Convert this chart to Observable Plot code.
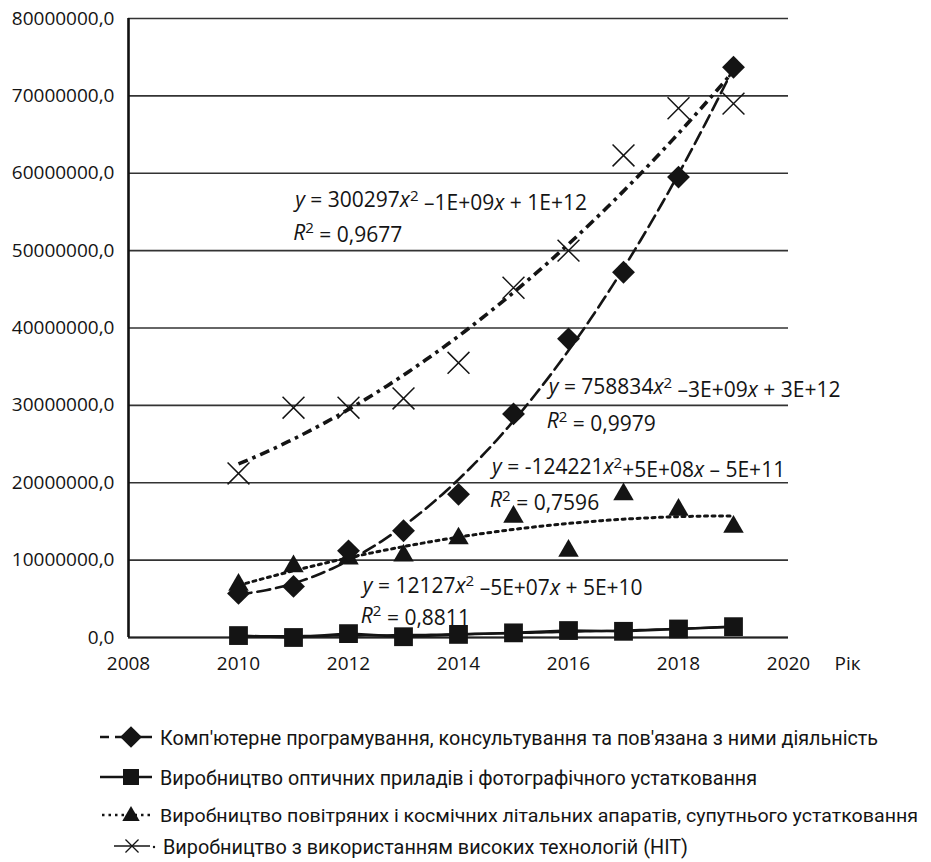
<!DOCTYPE html>
<html>
<head>
<meta charset="utf-8">
<script src="https://cdn.jsdelivr.net/npm/d3@7"></script>
<script src="https://cdn.jsdelivr.net/npm/@observablehq/plot@0.6"></script>
<style>
  html, body { margin: 0; padding: 0; background: #fff; }
  #chart svg { display: block; }
</style>
</head>
<body>
<div id="chart"></div>
<script>
// ---- data (values in millions) ----
const years = [2010, 2011, 2012, 2013, 2014, 2015, 2016, 2017, 2018, 2019];
const compProgramming = [5.7, 6.6, 11.2, 13.8, 18.5, 28.9, 38.6, 47.2, 59.5, 73.7];
const opticalInstruments = [0.25, 0.0, 0.5, 0.1, 0.4, 0.6, 0.9, 0.8, 1.1, 1.4];
const aerospace = [6.8, 9.2, 10.2, 10.6, 12.8, 15.6, 11.2, 18.5, 16.5, 14.3];
const hiTech = [21.2, 29.7, 29.7, 30.9, 35.5, 45.2, 50.0, 62.3, 68.4, 69.0];

const xTicks = [2008, 2010, 2012, 2014, 2016, 2018, 2020];
const yTicks = [0, 10000000, 20000000, 30000000, 40000000, 50000000, 60000000, 70000000, 80000000];
const xAxisLabel = "Рік";

const seriesNames = [
  "Комп'ютерне програмування, консультування та пов'язана з ними діяльність",
  "Виробництво оптичних приладів і фотографічного устатковання",
  "Виробництво повітряних і космічних літальних апаратів, супутнього устатковання",
  "Виробництво з використанням високих технологій (НІТ)"
];
const equations = [
  "*y* = 758834*x*^2 –3E+09*x* + 3E+12",
  "*y* = 12127*x*^2 –5E+07*x* + 5E+10",
  "*y* = -124221*x*^2+5E+08*x* – 5E+11",
  "*y* = 300297*x*^2 –1E+09*x* + 1E+12"
];
const rSquared = ["*R*^2 = 0,9979", "*R*^2 = 0,8811", "*R*^2 = 0,7596", "*R*^2 = 0,9677"];

// ---- helpers ----
const toRows = vals => years.map((year, i) => ({year, value: vals[i] * 1e6}));
function quadFit(rows) {
  const x0 = d3.mean(rows, d => d.year);
  const S = [[0,0,0],[0,0,0],[0,0,0]], T = [0,0,0];
  for (const r of rows) {
    const u = r.year - x0, p = [1, u, u*u];
    for (let a = 0; a < 3; a++) { T[a] += p[a] * r.value; for (let b = 0; b < 3; b++) S[a][b] += p[a]*p[b]; }
  }
  const M = S.map((row, i) => [...row, T[i]]);
  for (let i = 0; i < 3; i++) {
    let piv = i; for (let k = i+1; k < 3; k++) if (Math.abs(M[k][i]) > Math.abs(M[piv][i])) piv = k;
    [M[i], M[piv]] = [M[piv], M[i]];
    for (let k = i+1; k < 3; k++) { const f = M[k][i]/M[i][i]; for (let j = i; j < 4; j++) M[k][j] -= f*M[i][j]; }
  }
  const c = [0,0,0];
  for (let i = 2; i >= 0; i--) { let s = M[i][3]; for (let j = i+1; j < 3; j++) s -= M[i][j]*c[j]; c[i] = s/M[i][i]; }
  const f = t => c[0] + c[1]*(t-x0) + c[2]*(t-x0)*(t-x0);
  const t0 = d3.min(rows, d => d.year), t1 = d3.max(rows, d => d.year);
  return d3.range(0, 91).map(k => { const t = t0 + (t1 - t0) * k / 90; return {year: t, value: f(t)}; });
}

const rComp = toRows(compProgramming), rOpt = toRows(opticalInstruments), rAero = toRows(aerospace), rHit = toRows(hiTech);
const fmtY = d => d3.format(".1f")(d).replace(".", ",");

const styles = [
  {symbol: "diamond2", r: 10.3, dash: "13,6", width: 2.6},
  {symbol: "square", r: 10.6, dash: null, width: 2.6},
  {symbol: "triangle", r: 7.6, dash: "3,4.5", width: 3},
  {symbol: "times", r: 10, dash: "10,5,3.5,5", width: 3.6}
];
const ink = "#141414";

const plot = Plot.plot({
  width: 931,
  height: 690,
  marginTop: 18,
  marginBottom: 53,
  marginLeft: 128,
  marginRight: 143,
  style: {fontFamily: "'Open Sans', sans-serif", fontSize: "19px", color: ink, background: "#fff", overflow: "visible"},
  x: {domain: [2008, 2020], ticks: xTicks, tickFormat: d => String(d), tickSize: 0, tickPadding: 19, label: null},
  y: {domain: [0, 80000000], ticks: yTicks, tickFormat: fmtY, tickSize: 0, tickPadding: 14, label: null},
  marks: [
    Plot.ruleY(yTicks, {stroke: "#333", strokeWidth: 1.6}),
    Plot.ruleY([0], {stroke: "#222", strokeWidth: 2}),
    Plot.ruleX([2008], {stroke: "#111", strokeWidth: 2.6}),
    // trend lines
    Plot.line(quadFit(rHit), {x: "year", y: "value", stroke: ink, strokeWidth: styles[3].width, strokeDasharray: styles[3].dash, strokeLinecap: "butt"}),
    Plot.line(quadFit(rComp), {x: "year", y: "value", stroke: ink, strokeWidth: styles[0].width, strokeDasharray: styles[0].dash}),
    Plot.line(quadFit(rAero), {x: "year", y: "value", stroke: ink, strokeWidth: styles[2].width, strokeDasharray: styles[2].dash}),
    Plot.line(quadFit(rOpt), {x: "year", y: "value", stroke: ink, strokeWidth: 2.2}),
    // optical series line
    Plot.line(rOpt, {x: "year", y: "value", stroke: ink, strokeWidth: 2.6}),
    // markers
    Plot.dot(rAero, {x: "year", y: "value", symbol: styles[2].symbol, r: styles[2].r, fill: ink, stroke: "none"}),
    Plot.dot(rComp, {x: "year", y: "value", symbol: styles[0].symbol, r: styles[0].r, fill: ink, stroke: "none"}),
    Plot.dot(rOpt, {x: "year", y: "value", symbol: styles[1].symbol, r: styles[1].r, fill: ink, stroke: "none"}),
    Plot.dot(rHit, {x: "year", y: "value", symbol: styles[3].symbol, r: styles[3].r, stroke: ink, strokeWidth: 1.5, fill: "none"}),
    Plot.text([xAxisLabel], {x: 2020, frameAnchor: "bottom", dx: 59, dy: 32, fontSize: 19, fill: ink})
  ]
});
document.getElementById("chart").appendChild(plot);

// ---- equation annotations (rich text with italics and superscripts) ----
const sx = plot.scale("x"), sy = plot.scale("y");
function richText(sel, str, size) {
  const tokens = str.split(/(\*[^*]+\*|\^\d)/).filter(s => s.length);
  let pendingDy = null;
  for (const t of tokens) {
    let ts;
    if (t.startsWith("*")) ts = sel.append("tspan").attr("font-style", "italic").text(t.slice(1, -1));
    else if (t.startsWith("^")) ts = sel.append("tspan").attr("dy", "-0.42em").attr("font-size", size * 0.72).text(t.slice(1));
    else ts = sel.append("tspan").text(t.replace(/ /g, "\u00a0"));
    if (pendingDy) { ts.attr("dy", pendingDy); pendingDy = null; }
    if (t.startsWith("^")) pendingDy = (0.42 * size) + "px";
  }
}
const annot = [
  {eq: 3, x: 2011.04, y1: 56.5e6, y2: 52.3e6},
  {eq: 0, x: 2015.65, y1: 32.3e6, y2: 27.9e6},
  {eq: 2, x: 2014.62, y1: 22.0e6, y2: 17.7e6},
  {eq: 1, x: 2012.27, y1: 6.7e6, y2: 2.8e6}
];
const eqSize = 21;
const svg = d3.select(plot);
const g = svg.append("g").attr("font-family", "'Open Sans', sans-serif").attr("font-size", eqSize)
  .attr("fill", ink).attr("text-anchor", "start");
for (const a of annot) {
  richText(g.append("text").attr("text-anchor", "start").attr("x", sx.apply(a.x)).attr("y", sy.apply(a.y1)).attr("dy", "0.35em"), equations[a.eq], eqSize);
  richText(g.append("text").attr("text-anchor", "start").attr("x", sx.apply(a.x) - 2).attr("y", sy.apply(a.y2)).attr("dy", "0.35em"), rSquared[a.eq], eqSize);
}

// ---- legend ----
const legendRows = [
  {name: 0, cy: 47, textW: 718, tx: 160, fs: 21},
  {name: 1, cy: 87, textW: 597, tx: 160, fs: 21},
  {name: 2, cy: 125, textW: 758, tx: 160, fs: 19},
  {name: 3, cy: 156, textW: 525, tx: 163, fs: 21}
];
const leg = d3.select("#chart").append("svg").attr("width", 931).attr("height", 172)
  .style("display", "block").attr("font-family", "Roboto, 'Noto Sans', sans-serif");
const symMap = {diamond2: d3.symbolDiamond2, square: d3.symbolSquare, triangle: d3.symbolTriangle, times: d3.symbolTimes};
const legendScale = [0.95, 0.85, 0.85, 0.6];
legendRows.forEach((row, i) => {
  const st = styles[i];
  const gg = leg.append("g").attr("transform", `translate(0,${row.cy})`);
  if (i === 3) {
    gg.append("line").attr("x1", 114).attr("x2", 150).attr("stroke", ink).attr("stroke-width", 1.4);
    gg.append("circle").attr("cx", 154).attr("cy", 1).attr("r", 1.2).attr("fill", ink);
  } else {
    gg.append("line").attr("x1", i === 2 ? 102 : 100).attr("x2", 152).attr("stroke", ink)
      .attr("stroke-width", i === 2 ? 2.5 : 2.4).attr("stroke-dasharray", i === 0 ? "9,6,30,0" : i === 2 ? "2.5,4" : null);
  }
  const rr = st.r * legendScale[i];
  const path = d3.symbol(symMap[st.symbol], Math.PI * rr * rr)();
  const p = gg.append("path").attr("d", path).attr("transform", `translate(${i === 3 ? 132 : 131},${i === 2 ? 1 : 0})`);
  if (st.symbol === "times") p.attr("fill", "none").attr("stroke", ink).attr("stroke-width", 1.3);
  else p.attr("fill", ink);
  gg.append("text").attr("x", row.tx).attr("y", 0).attr("dy", "0.36em").attr("font-size", row.fs)
    .attr("fill", ink).attr("textLength", row.textW).attr("lengthAdjust", "spacingAndGlyphs")
    .text(seriesNames[row.name]);
});
</script>
</body>
</html>
